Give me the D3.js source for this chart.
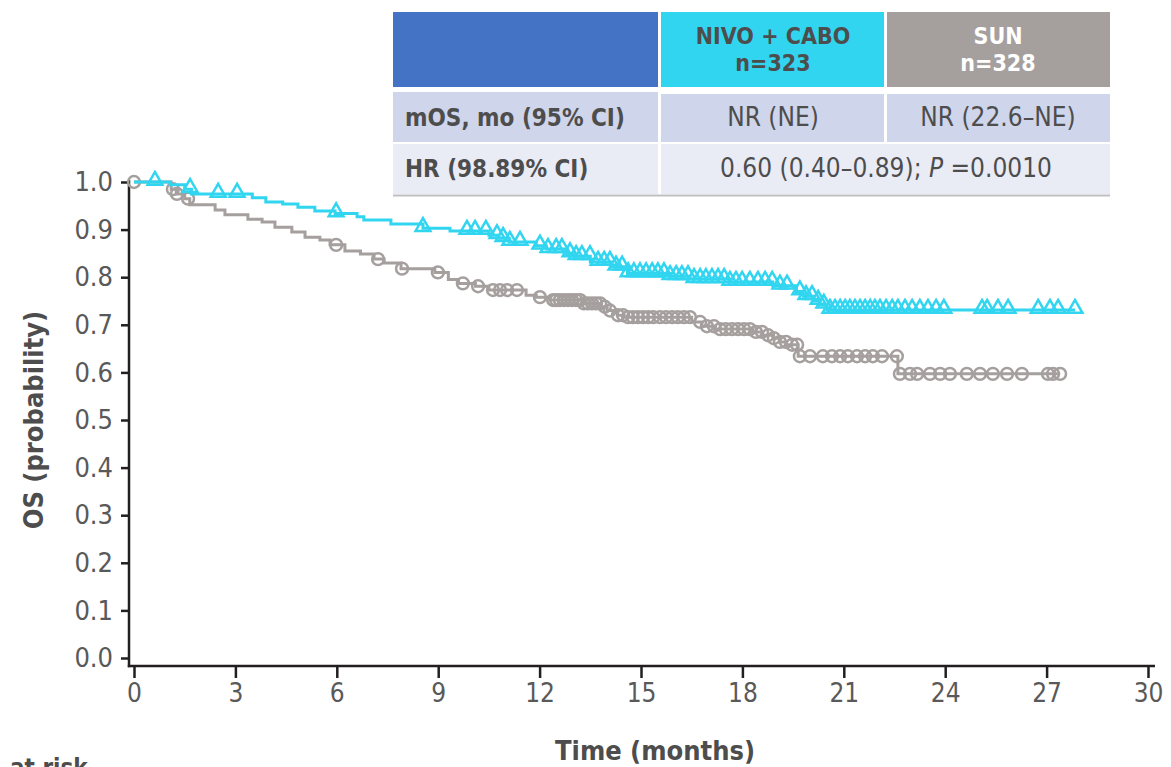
<!DOCTYPE html>
<html>
<head>
<meta charset="utf-8">
<script src="https://cdn.jsdelivr.net/npm/d3@7"></script>
<style>
  body { margin: 0; background: #fff; }
  text { font-family: "DejaVu Sans Condensed", "DejaVu Sans", sans-serif; }
</style>
</head>
<body>
<script>
// KM steps: [month, survival]
var nivoSteps = [[0,1.0],[1.07,0.994],[1.5,0.985],[1.7,0.975],[3.5,0.967],[3.9,0.958],[4.4,0.954],
  [4.85,0.947],[5.35,0.939],[5.95,0.934],[6.6,0.927],[6.8,0.920],[7.6,0.912],[8.55,0.903],[9.35,0.897],
  [10.5,0.888],[10.8,0.882],[11.1,0.874],[11.9,0.866],[12.2,0.859],[12.8,0.850],[13.0,0.844],[13.5,0.832],
  [14.1,0.822],[14.6,0.808],[15.85,0.802],[16.45,0.796],[17.6,0.790],[18.9,0.782],[19.6,0.770],
  [19.8,0.760],[20.1,0.750],[20.3,0.742],[20.5,0.731]];
var nivoEnd = 27.84;
var nivoCensor = [0.62,1.66,2.49,3.05,5.98,8.55,9.85,10.09,10.41,10.74,10.92,11.12,11.42,12.01,12.25,
  12.49,12.66,12.9,13.08,13.25,13.49,13.73,13.91,14.08,14.26,14.44,14.62,14.79,14.97,15.15,15.33,15.5,
  15.68,15.86,16.04,16.21,16.39,16.57,16.75,16.92,17.1,17.28,17.46,17.63,17.81,17.99,18.22,18.46,18.67,
  18.88,19.11,19.32,19.7,19.88,20.06,20.24,20.41,20.59,20.74,20.89,21.04,21.18,21.33,21.48,21.63,21.78,
  21.92,22.07,22.25,22.43,22.6,22.81,23.02,23.25,23.49,23.73,23.96,25.09,25.24,25.56,25.86,26.75,27.1,
  27.34,27.84];

var sunSteps = [[0,1.0],[1.1,0.985],[1.25,0.975],[1.5,0.965],[1.65,0.952],[2.4,0.941],[2.69,0.931],
  [3.37,0.922],[3.79,0.916],[4.17,0.905],[4.67,0.895],[5.06,0.884],[5.5,0.878],[5.8,0.868],[6.24,0.855],
  [6.7,0.849],[7.1,0.838],[7.4,0.830],[7.9,0.818],[8.9,0.810],[9.3,0.795],[9.6,0.787],[10.1,0.781],
  [10.5,0.773],[11.6,0.762],[11.9,0.758],[12.3,0.752],[13.3,0.745],[13.8,0.738],[14.0,0.730],
  [14.3,0.720],[14.5,0.716],[16.5,0.706],[16.8,0.697],[17.2,0.691],[18.3,0.685],[18.6,0.678],
  [18.9,0.672],[19.1,0.664],[19.3,0.658],[19.65,0.634],[22.6,0.597]];
var sunEnd = 27.4;
var sunCensor = [0,1.15,1.27,1.6,5.98,7.22,7.93,8.99,9.73,10.18,10.62,10.83,11.04,11.33,12.01,12.4,
  12.49,12.6,12.72,12.84,12.96,13.08,13.2,13.31,13.43,13.55,13.67,13.79,13.93,14.08,14.32,14.47,14.62,
  14.76,14.91,15.06,15.21,15.36,15.56,15.74,15.92,16.09,16.27,16.45,16.75,16.95,17.16,17.34,17.51,
  17.69,17.87,18.05,18.22,18.4,18.58,18.76,18.93,19.11,19.29,19.47,19.62,19.7,20.0,20.38,20.65,20.89,
  21.12,21.39,21.63,21.86,22.13,22.57,22.66,22.96,23.17,23.55,23.85,24.14,24.64,25.03,25.41,25.83,
  26.27,27.04,27.19,27.4];

var xTicks = [0,3,6,9,12,15,18,21,24,27,30];
var yTicks = [0,0.1,0.2,0.3,0.4,0.5,0.6,0.7,0.8,0.9,1.0];

var armNames = ["NIVO + CABO", "SUN"];
var armN = ["n=323", "n=328"];
var rowLabels = ["mOS, mo (95% CI)", "HR (98.89% CI)"];
var mosValues = ["NR (NE)", "NR (22.6\u2013NE)"];
var hrText = ["0.60 (0.40\u20130.89); ", "P", " =0.0010"];

var cyan = "#31d5f0", grey = "#a59f9e", ink = "#231f20", txt = "#4d4d4d";

var svg = d3.select("body").append("svg")
  .attr("width", 1171).attr("height", 767);

var x = d3.scaleLinear().domain([0, 30]).range([134, 1148]);
var y = d3.scaleLinear().domain([0, 1]).range([658, 182]);

// axes
svg.append("g")
  .attr("transform", "translate(129,0)")
  .call(d3.axisLeft(y).tickValues(yTicks).tickSize(8).tickPadding(8).tickFormat(d3.format(".1f")))
  .call(function(g) {
    g.select(".domain").remove();
    g.selectAll(".tick line").attr("stroke", ink).attr("stroke-width", 2.5);
    g.selectAll(".tick text").attr("fill", "#595959").attr("font-size", 27).attr("font-family", null);
  });
svg.append("g")
  .attr("transform", "translate(0,666)")
  .call(d3.axisBottom(x).tickValues(xTicks).tickSize(12).tickPadding(6))
  .call(function(g) {
    g.select(".domain").remove();
    g.selectAll(".tick line").attr("stroke", ink).attr("stroke-width", 2.5);
    g.selectAll(".tick text").attr("fill", "#595959").attr("font-size", 26).attr("font-family", null);
  });
svg.append("line").attr("x1", 129).attr("x2", 129).attr("y1", 180).attr("y2", 667.2)
  .attr("stroke", ink).attr("stroke-width", 2.5);
svg.append("line").attr("x1", 127.8).attr("x2", 1155).attr("y1", 666).attr("y2", 666)
  .attr("stroke", ink).attr("stroke-width", 2.5);

svg.append("text")
  .attr("text-anchor", "middle")
  .attr("x", 655).attr("y", 760)
  .attr("font-size", 27).attr("font-weight", "bold").attr("fill", txt)
  .text("Time (months)");
svg.append("text")
  .attr("text-anchor", "middle")
  .attr("transform", "translate(43,420) rotate(-90)")
  .attr("font-size", 27).attr("font-weight", "bold").attr("fill", txt)
  .text("OS (probability)");
svg.append("text")
  .attr("x", 10).attr("y", 776)
  .attr("font-size", 24).attr("font-weight", "bold").attr("fill", txt)
  .text("at risk");

// survival at time t from the step list
function survAt(steps, t) {
  var s = steps[0][1];
  steps.forEach(function(d) { if (d[0] <= t) s = d[1]; });
  return s;
}

var line = d3.line()
  .x(function(d) { return x(d[0]); })
  .y(function(d) { return y(d[1]); })
  .curve(d3.curveStepAfter);

function drawArm(steps, end, censor, color, shape) {
  var pts = steps.concat([[end, steps[steps.length - 1][1]]]);
  svg.append("path")
    .datum(pts)
    .attr("fill", "none")
    .attr("stroke", color)
    .attr("stroke-width", 3)
    .attr("d", line);
  var isCircle = shape === d3.symbolCircle;
  var sym = d3.symbol().type(shape).size(isCircle ? 110 : 95);
  svg.selectAll(null)
    .data(censor)
    .enter()
    .append("path")
      .attr("transform", function(t) {
        return "translate(" + x(t) + "," + (y(survAt(steps, t)) - (isCircle ? 0 : 1.5)) + ")";
      })
      .attr("d", sym)
      .attr("fill", "none")
      .attr("stroke", color)
      .attr("stroke-width", 2.5);
}

drawArm(sunSteps, sunEnd, sunCensor, grey, d3.symbolCircle);
drawArm(nivoSteps, nivoEnd, nivoCensor, cyan, d3.symbolTriangle);

// summary table
var tbl = svg.append("g");
var cells = [
  {x: 393, y: 12, w: 265, h: 75, fill: "#4472c4"},
  {x: 661, y: 12, w: 223, h: 75, fill: cyan},
  {x: 887, y: 12, w: 223, h: 75, fill: grey},
  {x: 393, y: 92, w: 265, h: 50, fill: "#cfd5ea"},
  {x: 661, y: 94, w: 223, h: 48, fill: "#cfd5ea"},
  {x: 887, y: 94, w: 223, h: 48, fill: "#cfd5ea"},
  {x: 393, y: 144, w: 265, h: 50, fill: "#e9ebf5"},
  {x: 661, y: 144, w: 449, h: 50, fill: "#e9ebf5"}
];
tbl.selectAll("rect").data(cells).enter().append("rect")
  .attr("x", function(d) { return d.x; }).attr("y", function(d) { return d.y; })
  .attr("width", function(d) { return d.w; }).attr("height", function(d) { return d.h; })
  .attr("fill", function(d) { return d.fill; });
tbl.append("line").attr("x1", 393).attr("x2", 1110).attr("y1", 195.5).attr("y2", 195.5)
  .attr("stroke", "#bfbfbf").attr("stroke-width", 2);

var colX = [773, 998];
armNames.forEach(function(name, i) {
  var c = i === 0 ? txt : "#ffffff";
  tbl.append("text").attr("x", colX[i]).attr("y", 44).attr("text-anchor", "middle")
    .attr("font-size", 23).attr("font-weight", "bold").attr("fill", c).text(name);
  tbl.append("text").attr("x", colX[i]).attr("y", 71).attr("text-anchor", "middle")
    .attr("font-size", 23).attr("font-weight", "bold").attr("fill", c).text(armN[i]);
  tbl.append("text").attr("x", colX[i]).attr("y", 126).attr("text-anchor", "middle")
    .attr("font-size", 26).attr("fill", txt).text(mosValues[i]);
});
rowLabels.forEach(function(lab, i) {
  tbl.append("text").attr("x", 405).attr("y", i === 0 ? 126 : 177)
    .attr("font-size", 24).attr("font-weight", "bold").attr("fill", txt).text(lab);
});
var hr = tbl.append("text").attr("x", 886).attr("y", 177).attr("text-anchor", "middle")
  .attr("font-size", 26).attr("fill", txt);
hrText.forEach(function(s, i) {
  hr.append("tspan").attr("font-style", i === 1 ? "italic" : null).text(s);
});
</script>
</body>
</html>
